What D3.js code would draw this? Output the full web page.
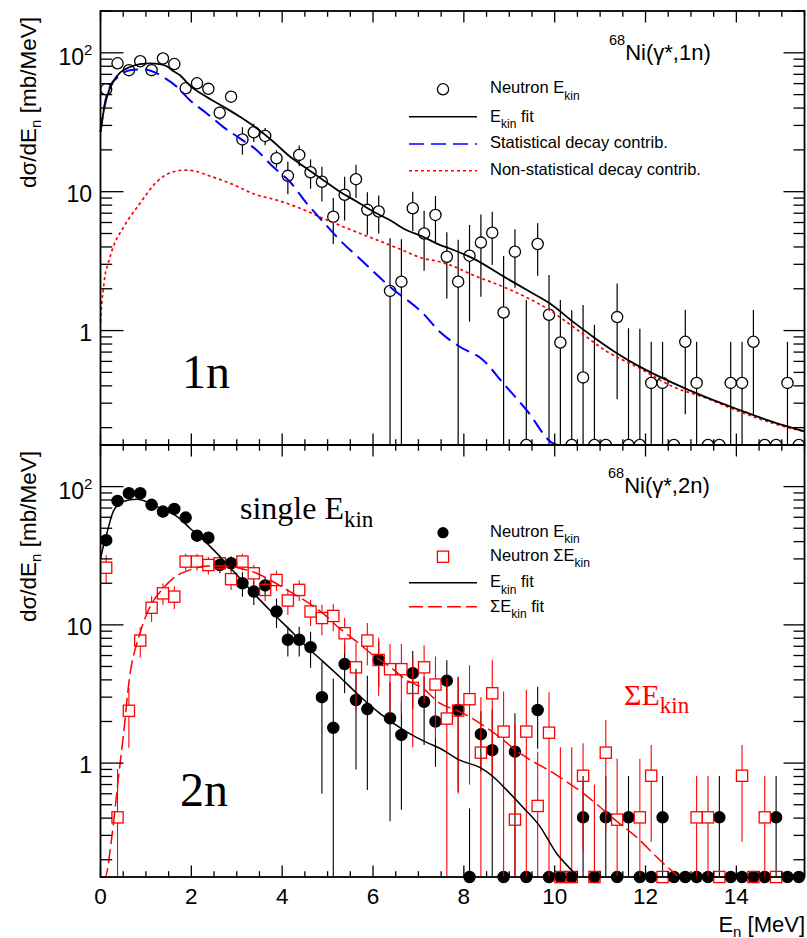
<!DOCTYPE html>
<html>
<head>
<meta charset="utf-8">
<script src="https://cdn.jsdelivr.net/npm/d3@7"></script>
<style>
  body { margin: 0; background: #fff; }
  svg { display: block; }
  text { font-family: "Liberation Sans", Arial, Helvetica, sans-serif; }
  .serif { font-family: "Liberation Serif", "Times New Roman", Times, serif; }
</style>
</head>
<body>
<svg id="chart" width="807" height="938"></svg>
<script>
// ---- data -----------------------------------------------------------------
// Neutron energy bin centres [MeV]
const energy = [
  0.125, 0.375, 0.625, 0.875, 1.125, 1.375, 1.625, 1.875, 2.125, 2.375,
  2.625, 2.875, 3.125, 3.375, 3.625, 3.875, 4.125, 4.375, 4.625, 4.875,
  5.125, 5.375, 5.625, 5.875, 6.125, 6.375, 6.625, 6.875, 7.125, 7.375,
  7.625, 7.875, 8.125, 8.375, 8.625, 8.875, 9.125, 9.375, 9.625, 9.875,
  10.125, 10.375, 10.625, 10.875, 11.125, 11.375, 11.625, 11.875, 12.125, 12.375,
  12.625, 12.875, 13.125, 13.375, 13.625, 13.875, 14.125, 14.375, 14.625, 14.875,
  15.125, 15.375
];

// 68Ni(γ*,1n): neutron E_kin spectrum [mb/MeV] and its errors
const oneN = [
  54.6, 84, 75, 87, 75, 91, 83, 55.5, 60.3, 55,
  37, 48.3, 23.8, 26.8, 25.2, 17.4, 13.0, 18.4, 13.8, 11.8,
  6.6, 9.5, 12.3, 7.4, 7.2, 1.93, 2.25, 7.6, 5.0, 6.8,
  3.4, 2.25, 3.46, 4.3, 5.07, 1.35, 3.7, 0, 4.2, 1.3,
  0.82, 0, 0.46, 0, 0, 1.25, 0, 0, 0.42, 0.42,
  0, 0.83, 0.42, 0, 0, 0.42, 0.42, 0.83, 0, 0,
  0.42, 0
];
const oneNErr = [
  4, 5, 5, 5, 5, 5, 5, 4.5, 4.5, 4.5,
  4, 4.5, 5.3, 4, 3.6, 2.5, 3.4, 3.1, 3.3, 3.3,
  2.4, 3.3, 3.3, 2.5, 2.2, 2.7, 2.3, 2.4, 2.3, 2.5,
  1.7, 2.25, 2.3, 2.55, 2.1, 2.1, 1.67, 1.66, 1.72, 1.21,
  0.84, 1.4, 1.07, 1.1, 0, 0.93, 1.04, 1.03, 0.41, 0.41,
  0, 0.58, 0.41, 0, 0, 0.41, 0.41, 0.58, 0, 0,
  0.41, 0
];

// 68Ni(γ*,2n): single-neutron E_kin spectrum
const twoNSingle = [
  41, 78.8, 89.5, 89.5, 73.8, 66, 69, 59.7, 44.2, 42.7,
  27.1, 27.9, 20, 17.4, 19.3, 12.5, 7.8, 7.8, 6.9, 3.0,
  1.8, 5.2, 2.86, 2.46, 5.57, 2.11, 1.6, 4.47, 2.78, 2.0,
  3.95, 2.42, 0, 1.62, 1.24, 0, 1.21, 0, 2.42, 0,
  0, 0, 0.405, 0, 0.405, 0, 0.405, 0, 0, 0.405,
  0, 0, 0, 0, 0.405, 0, 0, 0, 0, 0.405,
  0, 0
];
const twoNSingleErr = [
  4, 5, 5, 5, 5, 5, 5, 5, 4, 4,
  3.5, 3.5, 4, 3.5, 3, 3, 1.9, 1.9, 2, 2.4,
  2.3, 2, 1.96, 1.82, 2, 1.73, 1.14, 2, 1.43, 1.06,
  1.6, 1.8, 0.47, 0.75, 1.2, 0, 1.08, 0, 1.15, 0,
  0, 0, 0.4, 0, 0.4, 0, 0.4, 0, 0, 0.4,
  0, 0, 0, 0, 0.4, 0, 0, 0, 0, 0.4,
  0, 0
];

// 68Ni(γ*,2n): summed ΣE_kin spectrum (null = bin not shown)
const twoNSum = [
  25.9, 0.405, 2.39, 7.7, 13.3, 16.9, 16, 28.7, 28.7, 27.1,
  27.9, 21.4, 28.7, 23.6, 17.9, 21.1, 15, 17.9, 12.5, 11.2,
  11.6, 8.7, 4.93, 7.7, 5.57, 4.78, 4.78, 3.5, 4.93, 3.7,
  2.1, 2.4, 2.9, 1.19, 3.2, 1.69, 0.39, 1.69, 0.49, 1.66,
  0, 0, 0.81, 0, 1.19, 0.39, null, 0.405, 0.81, 0,
  null, null, 0.405, 0.405, 0, null, 0.81, 0, 0.405, 0,
  null, null
];
const twoNSumErr = [
  6, 0.5, 1.1, 1.9, 2.8, 3, 3, 4, 4, 4,
  4, 3.5, 4, 3.5, 3, 3.5, 3.2, 3, 2.7, 2.8,
  2.6, 2.5, 2.5, 2.6, 2.5, 2.5, 2.5, 2.2, 2.2, 2.2,
  2, 1.8, 2.2, 1.8, 2.4, 1.6, 1.55, 1.7, 0.72, 1.6,
  1.3, 1.3, 0.58, 0.7, 0.86, 0.69, 0, 0.67, 0.54, 0,
  0, 0, 0.4, 0.4, 0, 0, 0.54, 0, 0.4, 0,
  0, 0
];

// Fitted curves, [E_n, dσ/dE_n]
const fit1nTotal = [
  [0, 27], [0.07, 38], [0.14, 48], [0.28, 62], [0.43, 72], [0.65, 79], [0.87, 83],
  [1.1, 84], [1.3, 83], [1.46, 80], [1.6, 74], [1.75, 69], [1.97, 58], [2.34, 48],
  [2.7, 41], [3.07, 34.6], [3.44, 28.6], [3.8, 23], [4.17, 17.9], [4.54, 14.7],
  [4.9, 12.15], [5.27, 10], [5.64, 8.5], [6.0, 7.2], [6.37, 6.25], [6.7, 5.36],
  [7.1, 4.74], [7.47, 4.14], [7.69, 3.9], [8.2, 3.31], [8.94, 2.38], [9.4, 1.95],
  [9.89, 1.57], [10.4, 1.16], [10.85, 0.9], [11.36, 0.69], [11.87, 0.55], [12.6, 0.42],
  [13.34, 0.33], [14.07, 0.268], [14.8, 0.22], [15.5, 0.188]
];
const fit1nStat = [
  [0, 27], [0.1, 44], [0.21, 57], [0.43, 69], [0.65, 75], [0.9, 76], [1.12, 74],
  [1.38, 67], [1.68, 57], [1.97, 45.5], [2.34, 36.6], [2.7, 29.3], [3.07, 24.2],
  [3.44, 19.9], [3.8, 15.1], [4.17, 11.8], [4.54, 8.25], [4.9, 6.08], [5.27, 4.48],
  [5.78, 3.13], [6.37, 2.07], [7.1, 1.33], [7.47, 0.98], [7.91, 0.765], [8.42, 0.615],
  [8.86, 0.42], [9.38, 0.268], [10.0, 0.152], [10.1, 0.14]
];
const fit1nNonStat = [
  [0, 1.15], [0.03, 1.6], [0.06, 1.96], [0.1, 2.5], [0.17, 3.05], [0.28, 4.0],
  [0.5, 5.5], [0.87, 8.25], [1.24, 11.8], [1.6, 13.9], [1.86, 14.3], [2.1, 14.0],
  [2.34, 13.2], [2.85, 11.5], [3.44, 9.48], [3.88, 8.7], [4.39, 7.6], [4.9, 6.43],
  [5.34, 5.6], [6.08, 4.5], [6.6, 3.85], [7.1, 3.31], [7.47, 3.13], [7.69, 2.97],
  [8.2, 2.51], [8.94, 2.02], [9.89, 1.4], [10.4, 1.07], [11.14, 0.71], [11.87, 0.535],
  [12.6, 0.395], [13.34, 0.326], [14.07, 0.261], [14.8, 0.215], [15.5, 0.187]
];
const fit2nSingle = [
  [0, 30], [0.07, 38], [0.14, 46], [0.28, 66], [0.5, 78], [0.8, 81], [1.09, 76],
  [1.38, 68], [1.68, 61], [1.97, 50], [2.34, 39], [2.7, 29.5], [3.07, 21.7],
  [3.44, 16], [3.8, 12.1], [4.17, 9.2], [4.54, 6.95], [4.9, 5.42], [5.27, 4.2],
  [5.64, 3.2], [6.15, 2.29], [6.73, 1.69], [7.2, 1.4], [7.47, 1.28], [7.91, 1.05],
  [8.35, 0.93], [8.64, 0.8], [8.94, 0.64], [9.3, 0.48], [9.67, 0.35], [10.04, 0.223],
  [10.4, 0.164], [10.5, 0.14]
];
const fit2nSum = [
  [0, 0.1], [0.1, 0.15], [0.25, 0.294], [0.39, 0.755], [0.54, 2.05], [0.61, 3.47],
  [0.87, 8.7], [1.09, 13.5], [1.35, 17.9], [1.6, 21.7], [1.97, 25], [2.34, 26.6],
  [2.7, 26.6], [3.07, 25.7], [3.44, 23.6], [3.8, 20.5], [4.17, 17.4], [4.54, 14.7],
  [4.9, 12.1], [5.27, 9.4], [5.64, 7.56], [6.0, 6.05], [6.37, 4.98], [6.73, 4.0],
  [7.1, 3.47], [7.47, 2.71], [7.91, 2.36], [8.57, 1.74], [9.3, 1.14], [10.04, 0.82],
  [10.77, 0.556], [11.28, 0.4], [11.87, 0.278], [12.24, 0.21], [12.6, 0.164],
  [12.75, 0.14], [15.5, 0.14]
];

// Axis ticks
const xMajorTicks = [0, 2, 4, 6, 8, 10, 12, 14];
const yTickLabels = [
  { v: 100, base: "10", sup: "2" },
  { v: 10, base: "10", sup: "" },
  { v: 1, base: "1", sup: "" }
];

// ---- layout ---------------------------------------------------------------
const svg = d3.select("#chart");
const X0 = 100.5, X1 = 804.5;
const TOP = { y0: 11, y1: 445 };
const BOT = { y0: 445, y1: 877 };
const yDomain = [0.15, 200];

const x = d3.scaleLinear().domain([0, 15.5]).range([X0, X1]);
const yTop = d3.scaleLog().domain(yDomain).range([TOP.y1, TOP.y0]);
const yBot = d3.scaleLog().domain(yDomain).range([BOT.y1, BOT.y0]);

const RED = "#ff0000", BLUE = "#0000ff";

// clip for the upper pad (markers sitting on its lower edge are cut in half)
svg.append("defs").append("clipPath").attr("id", "clipTop")
  .append("rect").attr("x", 0).attr("y", 0).attr("width", 807).attr("height", TOP.y1);

function clampY(y, v) { return y(Math.min(Math.max(v, yDomain[0]), yDomain[1])); }

function drawCurve(g, y, pts, color, width, dash) {
  const line = d3.line()
    .x(d => x(d[0]))
    .y(d => clampY(y, d[1]))
    .curve(d3.curveMonotoneX);
  g.append("path").datum(pts)
    .attr("d", line)
    .attr("fill", "none")
    .attr("stroke", color)
    .attr("stroke-width", width)
    .attr("stroke-dasharray", dash || null);
}

function drawPoints(g, y, vals, errs, opt) {
  const pts = energy.map((E, i) => ({ E, v: vals[i], e: errs[i] })).filter(d => d.v !== null);
  const bars = g.append("g").attr("stroke", opt.barColor).attr("stroke-width", opt.barWidth);
  pts.forEach(d => {
    const cx = x(d.E);
    const cy = clampY(y, d.v);
    const yHi = clampY(y, d.v + d.e);
    const yLo = clampY(y, d.v - d.e);
    if (cy - opt.gap > yHi + 0.5) {
      bars.append("line").attr("x1", cx).attr("x2", cx).attr("y1", cy - opt.gap).attr("y2", yHi);
    }
    if (yLo > cy + opt.gap + 0.5) {
      bars.append("line").attr("x1", cx).attr("x2", cx).attr("y1", cy + opt.gap).attr("y2", yLo);
    }
  });
  const mk = g.append("g");
  pts.forEach(d => {
    const cx = x(d.E), cy = clampY(y, d.v);
    if (opt.shape === "square") {
      mk.append("rect").attr("x", cx - opt.size).attr("y", cy - opt.size)
        .attr("width", 2 * opt.size).attr("height", 2 * opt.size)
        .attr("fill", "none").attr("stroke", opt.color).attr("stroke-width", 1.3);
    } else {
      mk.append("circle").attr("cx", cx).attr("cy", cy).attr("r", opt.size)
        .attr("fill", opt.filled ? opt.color : "none")
        .attr("stroke", opt.color).attr("stroke-width", 1.3);
    }
  });
}

function drawFrame(pane, y, showXLabels) {
  const g = svg.append("g");
  const tk = g.append("g").attr("stroke", "#000").attr("stroke-width", 1.3);
  // x ticks, every 0.5 MeV, long ones on the labelled values
  const xMinor = d3.range(0, 15.5001, 0.5);
  xMinor.forEach(t => {
    const major = xMajorTicks.includes(t);
    const len = major ? 11.5 : 5.8;
    const px = x(t);
    tk.append("line").attr("x1", px).attr("x2", px).attr("y1", pane.y1).attr("y2", pane.y1 - len);
    tk.append("line").attr("x1", px).attr("x2", px).attr("y1", pane.y0).attr("y2", pane.y0 + len);
  });
  // log y ticks
  const decades = [0.1, 1, 10, 100];
  decades.forEach(dec => {
    for (let m = 1; m <= 9; m++) {
      const v = dec * m;
      if (v < yDomain[0] || v > yDomain[1]) continue;
      const py = y(v);
      const major = m === 1;
      tk.append("line").attr("x1", X0).attr("x2", X0 + (major ? 23 : 11.7)).attr("y1", py).attr("y2", py);
      tk.append("line").attr("x1", X1).attr("x2", X1 - (major ? 21 : 11)).attr("y1", py).attr("y2", py);
    }
  });
  // frame
  g.append("rect").attr("x", X0).attr("y", pane.y0).attr("width", X1 - X0).attr("height", pane.y1 - pane.y0)
    .attr("fill", "none").attr("stroke", "#000").attr("stroke-width", 1.8);

  // y tick labels
  yTickLabels.forEach(t => {
    const py = y(t.v);
    if (t.sup) {
      g.append("text").attr("x", 84).attr("y", py + 12.5).attr("text-anchor", "end")
        .attr("font-size", 23).text(t.base);
      g.append("text").attr("x", 84).attr("y", py + 2.5).attr("font-size", 15).text(t.sup);
    } else {
      g.append("text").attr("x", 92).attr("y", py + 10).attr("text-anchor", "end")
        .attr("font-size", 23).text(t.base);
    }
  });

  // y title
  const yt = g.append("text")
    .attr("transform", `translate(36,${pane.y0 + 6}) rotate(-90)`)
    .attr("text-anchor", "end").attr("font-size", 22.5);
  yt.append("tspan").text("dσ/dE");
  yt.append("tspan").attr("font-size", 15).attr("dy", 5).text("n");
  yt.append("tspan").attr("dy", -5).text(" [mb/MeV]");

  if (showXLabels) {
    xMajorTicks.forEach(t => {
      g.append("text").attr("x", x(t)).attr("y", pane.y1 + 27).attr("text-anchor", "middle")
        .attr("font-size", 22.5).text(t);
    });
    const xt = g.append("text").attr("x", 805).attr("y", 931.5).attr("text-anchor", "end")
      .attr("font-size", 22);
    xt.append("tspan").text("E");
    xt.append("tspan").attr("font-size", 15).attr("dy", 5).text("n");
    xt.append("tspan").attr("dy", -5).text(" [MeV]");
  }
}

function reactionTitle(xPos, baseline, label) {
  const t = svg.append("text").attr("x", xPos).attr("y", baseline).attr("font-size", 22);
  t.append("tspan").attr("font-size", 14.5).attr("dy", -15).text("68");
  t.append("tspan").attr("dy", 15).text(label);
}

function legendText(xPos, baseline, parts) {
  const t = svg.append("text").attr("x", xPos).attr("y", baseline).attr("font-size", 16.5);
  let shift = 0;
  parts.forEach(p => {
    const s = t.append("tspan").text(p.s);
    if (p.sub) { s.attr("font-size", 12).attr("dy", 6.5 - shift); shift = 6.5; }
    else if (shift) { s.attr("dy", -shift); shift = 0; }
  });
}

// ---- upper pad: 1n ---------------------------------------------------------
const gTop = svg.append("g").attr("clip-path", "url(#clipTop)");
drawPoints(gTop, yTop, oneN, oneNErr, { shape: "circle", filled: false, color: "#000", size: 5.6, gap: 5.6, barColor: "#000", barWidth: 1.2 });
drawCurve(gTop, yTop, fit1nNonStat, RED, 1.7, "3,3");
drawCurve(gTop, yTop, fit1nStat, BLUE, 2, "15,7");
drawCurve(gTop, yTop, fit1nTotal, "#000", 1.8, null);

// ---- lower pad: 2n ---------------------------------------------------------
const gBot = svg.append("g");
drawPoints(gBot, yBot, twoNSingle, twoNSingleErr, { shape: "circle", filled: true, color: "#000", size: 5.6, gap: 5.6, barColor: "#000", barWidth: 1.1 });
drawPoints(gBot, yBot, twoNSum, twoNSumErr, { shape: "square", color: RED, size: 5.6, gap: 5.6, barColor: RED, barWidth: 1.1 });
drawCurve(gBot, yBot, fit2nSingle, "#000", 1.5, null);
drawCurve(gBot, yBot, fit2nSum, RED, 1.5, "14,5");

drawFrame(TOP, yTop, false);
drawFrame(BOT, yBot, true);

// ---- annotations -----------------------------------------------------------
reactionTitle(609, 60, "Ni(γ*,1n)");
reactionTitle(608, 493, "Ni(γ*,2n)");

svg.append("text").attr("class", "serif").attr("x", 182).attr("y", 388).attr("font-size", 48).text("1n");
svg.append("text").attr("class", "serif").attr("x", 180).attr("y", 806).attr("font-size", 48).text("2n");

const single = svg.append("text").attr("class", "serif").attr("x", 240).attr("y", 519).attr("font-size", 32);
single.append("tspan").text("single E");
single.append("tspan").attr("font-size", 23).attr("dy", 8).text("kin");

const sumLbl = svg.append("text").attr("class", "serif").attr("x", 624).attr("y", 705)
  .attr("font-size", 30).attr("fill", RED);
sumLbl.append("tspan").text("ΣE");
sumLbl.append("tspan").attr("font-size", 23).attr("dy", 8).text("kin");

// legend, upper pad
const LX0 = 409, LX1 = 477, LXM = 443, LT = 490;
svg.append("circle").attr("cx", LXM).attr("cy", 89.3).attr("r", 5.6).attr("fill", "none").attr("stroke", "#000").attr("stroke-width", 1.3);
svg.append("line").attr("x1", LX0).attr("x2", LX1).attr("y1", 116.7).attr("y2", 116.7).attr("stroke", "#000").attr("stroke-width", 1.5);
svg.append("line").attr("x1", LX0).attr("x2", LX1).attr("y1", 144).attr("y2", 144).attr("stroke", BLUE).attr("stroke-width", 1.5).attr("stroke-dasharray", "15,7");
svg.append("line").attr("x1", LX0).attr("x2", LX1).attr("y1", 170.7).attr("y2", 170.7).attr("stroke", RED).attr("stroke-width", 1.5).attr("stroke-dasharray", "3,3");
legendText(LT, 93.3, [{ s: "Neutron E" }, { s: "kin", sub: true }]);
legendText(LT, 121.7, [{ s: "E" }, { s: "kin", sub: true }, { s: " fit" }]);
legendText(LT, 148.3, [{ s: "Statistical decay contrib." }]);
legendText(LT, 175.3, [{ s: "Non-statistical decay contrib." }]);

// legend, lower pad
svg.append("circle").attr("cx", LXM).attr("cy", 532.7).attr("r", 5.6).attr("fill", "#000");
svg.append("rect").attr("x", LXM - 5.6).attr("y", 556.7 - 5.6).attr("width", 11.2).attr("height", 11.2)
  .attr("fill", "none").attr("stroke", RED).attr("stroke-width", 1.3);
svg.append("line").attr("x1", LX0).attr("x2", LX1).attr("y1", 582.7).attr("y2", 582.7).attr("stroke", "#000").attr("stroke-width", 1.5);
svg.append("line").attr("x1", LX0).attr("x2", LX1).attr("y1", 606.7).attr("y2", 606.7).attr("stroke", RED).attr("stroke-width", 1.5).attr("stroke-dasharray", "14,5");
legendText(LT, 536.7, [{ s: "Neutron E" }, { s: "kin", sub: true }]);
legendText(LT, 560.7, [{ s: "Neutron ΣE" }, { s: "kin", sub: true }]);
legendText(LT, 587.3, [{ s: "E" }, { s: "kin", sub: true }, { s: " fit" }]);
legendText(LT, 611.7, [{ s: "ΣE" }, { s: "kin", sub: true }, { s: " fit" }]);
</script>
</body>
</html>
